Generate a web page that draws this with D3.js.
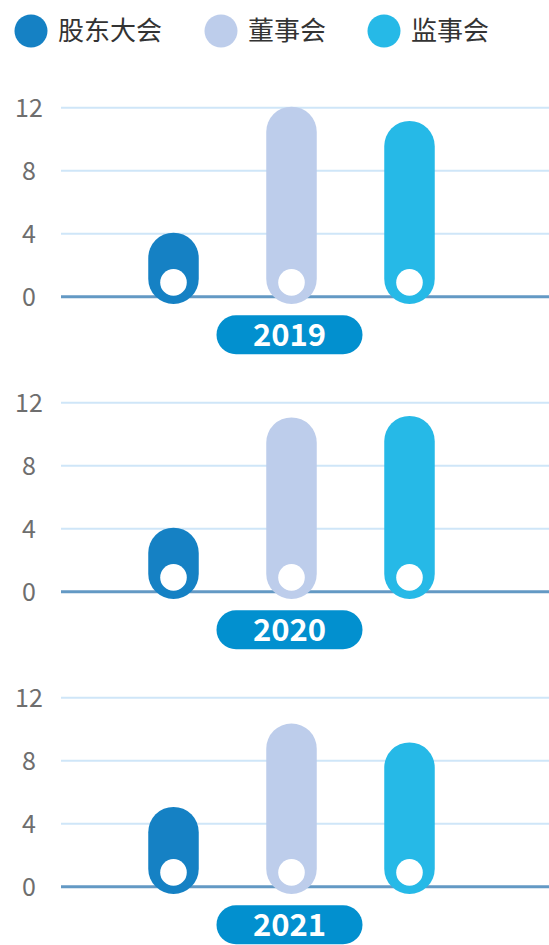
<!DOCTYPE html>
<html>
<head>
  <meta charset="utf-8">
  <title>会议次数</title>
  <script src="https://d3js.org/d3.v7.min.js"></script>
  <style>
    html, body {
      margin: 0;
      padding: 0;
      background: #fff;
    }
    svg text {
      font-family: "Noto Sans CJK SC", "Noto Sans", sans-serif;
    }
  </style>
</head>
<body>
  <svg id="chart" width="549" height="945"></svg>

  <script>
    // data
    const series = ["股东大会", "董事会", "监事会"];
    const years = ["2019", "2020", "2021"];
    const values2019 = [4, 12, 11.1];
    const values2020 = [4, 11, 11.1];
    const values2021 = [5, 10.3, 9.1];
    const yTicks = [0, 4, 8, 12];

    const colors = ["#1581c4", "#bdcdeb", "#26b9e7"];
    const allValues = [values2019, values2020, values2021];

    const svg = d3.select("#chart");

    // legend
    const legendX = [31, 221, 384];
    const legend = svg.selectAll("g.legend")
      .data(series)
      .join("g")
      .attr("class", "legend")
      .attr("transform", (d, i) => "translate(" + legendX[i] + ",31)");

    legend.append("circle")
      .attr("r", 16.5)
      .attr("fill", (d, i) => colors[i]);

    legend.append("text")
      .attr("x", 27)
      .attr("dy", "0.35em")
      .attr("fill", "#333")
      .style("font-size", "26px")
      .text(d => d);

    const x = d3.scalePoint()
      .domain(series)
      .range([173.5, 409.5]);

    const barW = 50.5;
    const plotLeft = 61, plotRight = 549;

    years.forEach((year, k) => {
      const base = 296.7 + 295 * k;
      const y = d3.scaleLinear()
        .domain([0, 12])
        .range([base, base - 189]);

      const g = svg.append("g");

      // grid lines
      g.selectAll("line.grid")
        .data(yTicks.filter(t => t > 0))
        .join("line")
        .attr("x1", plotLeft)
        .attr("x2", plotRight)
        .attr("y1", d => y(d))
        .attr("y2", d => y(d))
        .attr("stroke", "#cfe6f8")
        .attr("stroke-width", 2);

      // tick labels
      g.selectAll("text.tick")
        .data(yTicks)
        .join("text")
        .attr("x", 29)
        .attr("y", d => y(d))
        .attr("dy", "0.36em")
        .attr("text-anchor", "middle")
        .attr("fill", "#6e6e6e")
        .style("font-size", "25px")
        .text(d => d);

      // zero line
      g.append("line")
        .attr("x1", plotLeft)
        .attr("x2", plotRight)
        .attr("y1", y(0))
        .attr("y2", y(0))
        .attr("stroke", "#6399c4")
        .attr("stroke-width", 3);

      const vals = allValues[k];

      // pill bars
      g.selectAll("rect.bar")
        .data(series)
        .join("rect")
        .attr("x", d => x(d) - barW / 2)
        .attr("y", (d, i) => y(vals[i]) - 1)
        .attr("width", barW)
        .attr("height", (d, i) => y(0) + 7.3 - (y(vals[i]) - 1))
        .attr("rx", barW / 2)
        .attr("fill", (d, i) => colors[i]);

      // white dots
      g.selectAll("circle.dot")
        .data(series)
        .join("circle")
        .attr("cx", d => x(d))
        .attr("cy", y(0) - 14.3)
        .attr("r", 13.3)
        .attr("fill", "#fff");

      // year label
      g.append("rect")
        .attr("x", 216.5)
        .attr("y", y(0) + 18.5)
        .attr("width", 146)
        .attr("height", 39)
        .attr("rx", 19.5)
        .attr("fill", "#0290cf");

      g.append("text")
        .attr("x", 289.5)
        .attr("y", y(0) + 38)
        .attr("dy", "0.36em")
        .attr("text-anchor", "middle")
        .attr("fill", "#fff")
        .style("font-size", "31px")
        .style("font-weight", "700")
        .text(year);
    });
  </script>
</body>
</html>
